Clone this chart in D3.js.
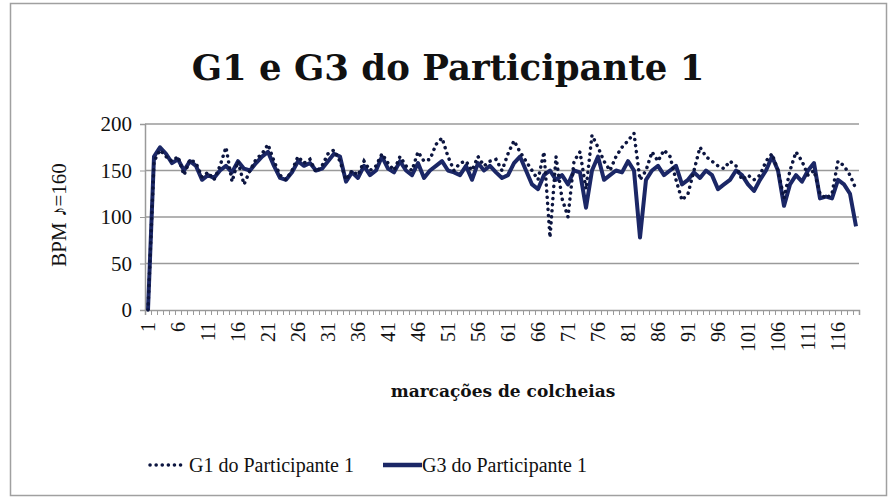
<!DOCTYPE html>
<html><head><meta charset="utf-8">
<script src="https://cdn.jsdelivr.net/npm/d3@7"></script>
<style>body{margin:0;background:#fff}svg{display:block}</style>
</head><body><svg id="c" width="892" height="500"></svg>
<script>
const title = "G1 e G3 do Participante 1";
const yTitle = "BPM \u266A=160";
const xTitle = "marcações de colcheias";
const seriesNames = ["G1 do Participante 1", "G3 do Participante 1"];
const yTicks = [0, 50, 100, 150, 200];
const xTickLabels = [1,6,11,16,21,26,31,36,41,46,51,56,61,66,71,76,81,86,91,96,101,106,111,116];
const g1 = [0,160,172,165,160,165,145,162,158,143,148,140,155,175,138,160,135,150,162,168,
178,160,145,140,150,165,158,162,148,155,168,172,160,140,150,145,160,150,155,168,
158,150,165,155,150,170,160,162,178,185,165,150,158,160,150,165,155,160,162,150,
168,182,170,160,150,140,170,78,165,120,100,160,170,130,188,175,160,150,165,175,
182,190,140,150,170,160,172,165,140,118,125,150,175,165,160,155,152,160,155,140,
145,140,145,160,168,150,120,150,170,160,145,150,125,120,125,160,155,145,130];
const g3 = [0,165,175,168,158,162,150,160,155,140,145,142,150,155,148,160,152,150,158,165,
170,155,142,140,148,160,155,158,150,152,160,168,165,138,148,142,155,145,150,165,
152,148,160,150,145,158,142,150,155,160,150,148,145,155,140,158,150,155,148,142,
145,158,165,150,135,130,145,150,140,145,135,150,148,110,150,165,140,145,150,148,
160,150,78,140,150,155,145,150,155,135,140,148,142,150,145,130,135,140,150,145,
135,128,140,150,165,150,112,135,145,138,150,158,120,122,120,140,135,125,90];

const svg = d3.select("#c");
const serif = "'Liberation Serif','Times New Roman',serif";
const bold = "'DejaVu Serif',serif";
svg.append("rect").attr("x",10.5).attr("y",3.5).attr("width",876).attr("height",492)
  .attr("fill","#fff").attr("stroke","#a0a0a0").attr("stroke-width",1.5);

const n = g3.length;
const x = d3.scaleLinear().domain([0.5, n + 0.5]).range([145, 859]);
const y = d3.scaleLinear().domain([0, 200]).range([310, 124]);

svg.append("text").attr("x",448).attr("y",80).attr("text-anchor","middle")
  .attr("font-family",bold).attr("font-weight","bold").attr("font-size",35.5)
  .attr("fill","#111").text(title);

// gridlines
svg.append("g").selectAll("line").data(yTicks.filter(d=>d>0)).join("line")
  .attr("x1",145).attr("x2",859).attr("y1",d=>y(d)).attr("y2",d=>y(d))
  .attr("stroke","#9a9a9a").attr("stroke-width",1.5);

// y axis
const ya = svg.append("g").attr("transform","translate(145,0)")
  .call(d3.axisLeft(y).tickValues(yTicks).tickSize(5).tickPadding(8));
ya.select(".domain").attr("stroke","#9a9a9a").attr("stroke-width",1.5);
ya.selectAll(".tick line").attr("stroke","#9a9a9a");
ya.selectAll("text").attr("font-family",serif).attr("font-size",21).attr("fill","#111");

// x axis minor ticks
const boundaries = d3.range(0, n + 1).map(i => i + 0.5);
const xa = svg.append("g").attr("transform","translate(0,310)")
  .call(d3.axisBottom(x).tickValues(boundaries).tickSize(5).tickFormat(""));
xa.select(".domain").attr("stroke","#9a9a9a").attr("stroke-width",1.5);
xa.selectAll(".tick line").attr("stroke","#9a9a9a");

// x labels
svg.append("g").selectAll("text").data(xTickLabels).join("text")
  .attr("transform", d => `translate(${x(d)+7},322) rotate(-90)`)
  .attr("text-anchor","end").attr("font-family",serif).attr("font-size",20)
  .attr("fill","#111").text(d=>d);

svg.append("text").attr("x",503).attr("y",397).attr("text-anchor","middle")
  .attr("font-family",bold).attr("font-weight","bold").attr("font-size",17)
  .attr("fill","#111").text(xTitle);

svg.append("text").attr("transform","translate(66,215) rotate(-90)")
  .attr("text-anchor","middle").attr("font-family",serif).attr("font-size",21)
  .attr("fill","#111").text(yTitle);

const line = d3.line().x((d,i)=>x(i+1)).y(d=>y(d));
svg.append("path").datum(g3).attr("d",line).attr("fill","none")
  .attr("stroke","#1b2766").attr("stroke-width",4).attr("stroke-linejoin","round");
svg.append("path").datum(g1).attr("d",line).attr("fill","none")
  .attr("stroke","#0c1540").attr("stroke-width",3.5).attr("stroke-linecap","round")
  .attr("stroke-dasharray","0.1 6");

// legend
const lg = svg.append("g");
lg.append("line").attr("x1",150).attr("x2",184).attr("y1",465).attr("y2",465)
  .attr("stroke","#0c1540").attr("stroke-width",3.5).attr("stroke-linecap","round")
  .attr("stroke-dasharray","0.1 6");
lg.append("text").attr("x",189).attr("y",472).attr("font-family",serif).attr("font-size",20)
  .attr("fill","#111").text(seriesNames[0]);
lg.append("line").attr("x1",383).attr("x2",422).attr("y1",465).attr("y2",465)
  .attr("stroke","#1b2766").attr("stroke-width",4.5);
lg.append("text").attr("x",422).attr("y",472).attr("font-family",serif).attr("font-size",20)
  .attr("fill","#111").text(seriesNames[1]);
</script></body></html>
